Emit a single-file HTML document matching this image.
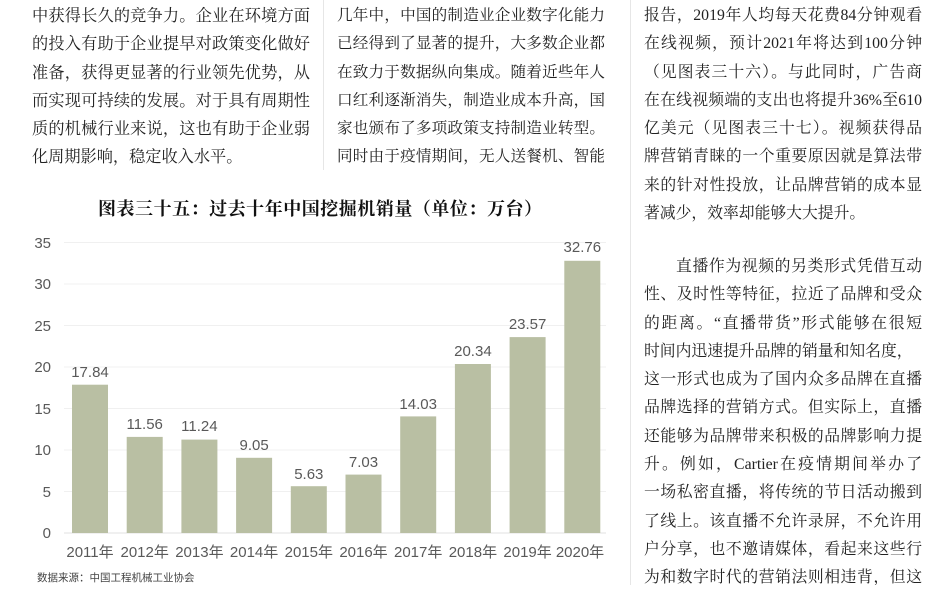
<!DOCTYPE html>
<html><head><meta charset="utf-8"><style>
body{margin:0;background:#fff;}
#p{position:relative;width:950px;height:613px;overflow:hidden;background:#fff;}
.col{position:absolute;font-family:"Liberation Serif","Noto Serif CJK SC",serif;font-size:16.2px;color:#222;}
.col div{height:28.3px;line-height:28.3px;text-align:justify;text-align-last:justify;white-space:nowrap;}
.vl{position:absolute;width:1px;background:#e6e6e6;}
</style></head><body><div id="p">
<div class="vl" style="left:323px;top:0;height:170px"></div>
<div class="vl" style="left:630px;top:0;height:585px"></div>
<div class="col" style="left:32px;top:2px;width:278px">
<div>中获得长久的竞争力。企业在环境方面</div>
<div>的投入有助于企业提早对政策变化做好</div>
<div>准备，获得更显著的行业领先优势，从</div>
<div>而实现可持续的发展。对于具有周期性</div>
<div>质的机械行业来说，这也有助于企业弱</div>
<div style="text-align-last:left">化周期影响，稳定收入水平。</div>
</div>
<div class="col" style="left:337px;top:2px;width:268px;font-size:15.6px">
<div>几年中，中国的制造业企业数字化能力</div>
<div>已经得到了显著的提升，大多数企业都</div>
<div>在致力于数据纵向集成。随着近些年人</div>
<div>口红利逐渐消失，制造业成本升高，国</div>
<div>家也颁布了多项政策支持制造业转型。</div>
<div>同时由于疫情期间，无人送餐机、智能</div>
</div>
<div class="col" style="left:644px;top:2px;width:278px;font-size:15.8px">
<div>报告，2019年人均每天花费84分钟观看</div>
<div>在线视频，预计2021年将达到100分钟</div>
<div>（见图表三十六）。与此同时，广告商</div>
<div>在在线视频端的支出也将提升36%至610</div>
<div>亿美元（见图表三十七）。视频获得品</div>
<div>牌营销青睐的一个重要原因就是算法带</div>
<div>来的针对性投放，让品牌营销的成本显</div>
<div style="text-align-last:left">著减少，效率却能够大大提升。</div>
</div>
<div class="col" style="left:644px;top:253px;width:278px;height:332px;overflow:hidden;font-size:15.8px">
<div style="padding-left:32px">直播作为视频的另类形式凭借互动</div>
<div>性、及时性等特征，拉近了品牌和受众</div>
<div>的距离。“直播带货”形式能够在很短</div>
<div style="text-align-last:left">时间内迅速提升品牌的销量和知名度，</div>
<div>这一形式也成为了国内众多品牌在直播</div>
<div>品牌选择的营销方式。但实际上，直播</div>
<div>还能够为品牌带来积极的品牌影响力提</div>
<div>升。例如，Cartier在疫情期间举办了</div>
<div>一场私密直播，将传统的节日活动搬到</div>
<div>了线上。该直播不允许录屏，不允许用</div>
<div>户分享，也不邀请媒体，看起来这些行</div>
<div>为和数字时代的营销法则相违背，但这</div>
</div>
<div style="position:absolute;left:98px;top:195px;width:444px;font-family:'Liberation Serif','Noto Serif CJK SC',serif;font-weight:bold;font-size:18px;text-align:justify;text-align-last:justify;white-space:nowrap;color:#111">图表三十五：过去十年中国挖掘机销量（单位：万台）</div>
<svg style="position:absolute;left:0;top:0" width="950" height="613" font-family="Liberation Sans, Noto Sans CJK SC, sans-serif" fill="#595959">
<g stroke="#f0f0f0" stroke-width="1">
<line x1="64" x2="606" y1="242.5" y2="242.5"/><line x1="64" x2="606" y1="284" y2="284"/><line x1="64" x2="606" y1="325.5" y2="325.5"/><line x1="64" x2="606" y1="367" y2="367"/><line x1="64" x2="606" y1="408.5" y2="408.5"/><line x1="64" x2="606" y1="450" y2="450"/><line x1="64" x2="606" y1="491.5" y2="491.5"/><line x1="64" x2="606" y1="533" y2="533" stroke="#e0e0e0"/>
</g>
<g font-size="15" text-anchor="end">
<text x="51" y="248">35</text><text x="51" y="289">30</text><text x="51" y="331">25</text><text x="51" y="372">20</text><text x="51" y="414">15</text><text x="51" y="455">10</text><text x="51" y="497">5</text><text x="51" y="538">0</text>
</g>
<g fill="#b9bfa3">
<rect x="72" y="384.7" width="36" height="148.3"/>
<rect x="126.7" y="436.9" width="36" height="96.1"/>
<rect x="181.4" y="439.6" width="36" height="93.4"/>
<rect x="236.1" y="457.8" width="36" height="75.2"/>
<rect x="290.8" y="486.2" width="36" height="46.8"/>
<rect x="345.5" y="474.6" width="36" height="58.4"/>
<rect x="400.2" y="416.4" width="36" height="116.6"/>
<rect x="454.9" y="364" width="36" height="169"/>
<rect x="509.6" y="337.1" width="36" height="195.9"/>
<rect x="564.3" y="260.8" width="36" height="272.2"/>
</g>
<g font-size="15" text-anchor="middle">
<text x="90" y="377">17.84</text><text x="144.7" y="429">11.56</text><text x="199.4" y="431">11.24</text><text x="254.1" y="450">9.05</text><text x="308.8" y="479">5.63</text><text x="363.5" y="467">7.03</text><text x="418.2" y="409">14.03</text><text x="472.9" y="356">20.34</text><text x="527.6" y="329">23.57</text><text x="582.3" y="252">32.76</text>
</g>
<g font-size="15" text-anchor="middle">
<text x="90" y="557">2011年</text><text x="144.7" y="557">2012年</text><text x="199.4" y="557">2013年</text><text x="254.1" y="557">2014年</text><text x="308.8" y="557">2015年</text><text x="363.5" y="557">2016年</text><text x="418.2" y="557">2017年</text><text x="472.9" y="557">2018年</text><text x="527.6" y="557">2019年</text><text x="580" y="557">2020年</text>
</g>
<text x="37" y="581" font-size="10.5" fill="#444">数据来源：中国工程机械工业协会</text>
</svg>
</div></body></html>
